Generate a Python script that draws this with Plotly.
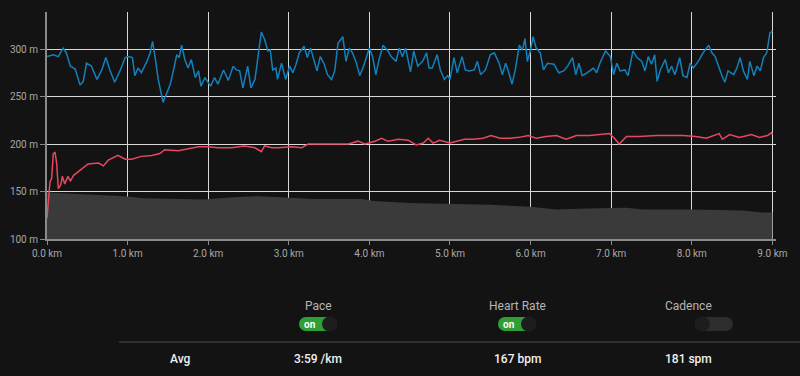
import plotly.graph_objects as go

# ---------------- data ----------------
pace_km = [0.00, 0.08, 0.14, 0.20, 0.24, 0.29, 0.35, 0.41, 0.45, 0.49, 0.55, 0.62, 0.68, 0.73, 0.78,
           0.84, 0.91, 0.97, 1.01, 1.06, 1.09, 1.13, 1.17, 1.24, 1.28, 1.31, 1.34, 1.38, 1.44, 1.48,
           1.53, 1.57, 1.61, 1.64, 1.67, 1.71, 1.75, 1.79, 1.84, 1.88, 1.91, 1.96, 2.03, 2.08, 2.12,
           2.19, 2.25, 2.31, 2.35, 2.39, 2.43, 2.49, 2.53, 2.58, 2.62, 2.66, 2.70, 2.74, 2.77, 2.80,
           2.84, 2.86, 2.91, 2.96, 3.01, 3.05, 3.09, 3.13, 3.19, 3.23, 3.27, 3.31, 3.35, 3.39, 3.44,
           3.48, 3.53, 3.57, 3.61, 3.67, 3.71, 3.75, 3.79, 3.84, 3.88, 3.92, 3.96, 4.00, 4.04, 4.08,
           4.12, 4.17, 4.23, 4.27, 4.33, 4.37, 4.41, 4.45, 4.51, 4.55, 4.60, 4.66, 4.71, 4.74, 4.78,
           4.84, 4.88, 4.93, 4.97, 5.00, 5.05, 5.09, 5.15, 5.19, 5.24, 5.30, 5.34, 5.38, 5.44, 5.50,
           5.55, 5.61, 5.65, 5.69, 5.73, 5.77, 5.81, 5.86, 5.90, 5.93, 5.96, 6.00, 6.03, 6.07, 6.12,
           6.16, 6.21, 6.29, 6.35, 6.41, 6.46, 6.52, 6.56, 6.60, 6.64, 6.70, 6.78, 6.82, 6.86, 6.93,
           6.99, 7.03, 7.07, 7.11, 7.17, 7.21, 7.27, 7.32, 7.38, 7.42, 7.46, 7.50, 7.54, 7.57, 7.61,
           7.67, 7.71, 7.75, 7.79, 7.85, 7.89, 7.94, 7.98, 8.02, 8.08, 8.14, 8.21, 8.25, 8.29, 8.33,
           8.37, 8.41, 8.45, 8.52, 8.56, 8.60, 8.64, 8.69, 8.72, 8.77, 8.81, 8.85, 8.89, 8.93, 8.97,
           9.00]
pace_val = [292, 294, 292, 301, 296, 282, 279, 262, 266, 285, 282, 268, 278, 291, 278,
            265, 278, 291, 292, 291, 272, 280, 275, 287, 296, 308, 292, 268, 244, 252,
            263, 278, 294, 291, 304, 289, 280, 289, 270, 277, 261, 270, 261, 270, 263,
            278, 267, 282, 278, 277, 259, 282, 259, 268, 296, 318, 310, 298, 299, 278,
            280, 268, 285, 268, 282, 275, 284, 296, 303, 291, 301, 289, 277, 292, 284,
            273, 268, 277, 306, 313, 287, 301, 296, 285, 272, 280, 291, 301, 292, 273,
            289, 304, 298, 292, 287, 301, 292, 301, 276, 298, 282, 287, 296, 280, 280,
            294, 278, 268, 272, 268, 291, 275, 292, 278, 277, 278, 287, 273, 278, 294,
            296, 285, 273, 285, 275, 263, 278, 304, 299, 311, 287, 299, 313, 301, 296,
            278, 285, 284, 275, 277, 282, 291, 273, 285, 272, 275, 280, 275, 285, 298,
            292, 273, 285, 277, 278, 272, 298, 291, 287, 277, 292, 284, 294, 266, 278,
            289, 275, 282, 273, 291, 272, 270, 285, 280, 287, 296, 304, 296, 292, 282,
            273, 265, 277, 273, 280, 291, 277, 268, 287, 272, 282, 277, 291, 296, 317,
            319]

hr_km = [0.00, 0.025, 0.037, 0.058, 0.078, 0.10, 0.12, 0.14, 0.17, 0.19, 0.22, 0.26, 0.29, 0.33,
         0.39, 0.43, 0.51, 0.64, 0.70, 0.76, 0.88, 0.97, 1.05, 1.17, 1.30, 1.40, 1.46, 1.63, 1.75,
         1.88, 2.00, 2.12, 2.29, 2.45, 2.58, 2.66, 2.70, 2.79, 2.87, 3.03, 3.16, 3.24, 3.36, 3.53,
         3.61, 3.74, 3.86, 3.94, 4.07, 4.15, 4.23, 4.36, 4.48, 4.58, 4.67, 4.73, 4.79, 4.87, 5.00,
         5.08, 5.18, 5.29, 5.41, 5.51, 5.62, 5.74, 5.86, 5.97, 6.07, 6.19, 6.32, 6.44, 6.57, 6.73,
         6.90, 6.98, 7.04, 7.10, 7.19, 7.35, 7.56, 7.72, 7.89, 8.05, 8.18, 8.34, 8.38, 8.47, 8.59,
         8.74, 8.84, 8.94, 8.99, 9.00]
hr_val = [122, 148, 160, 164, 190, 191, 180, 153, 157, 166, 158, 166, 161, 167,
          171, 174, 179, 180, 177, 183, 188, 184, 184, 187, 188, 190, 194, 193, 195,
          197, 197, 196, 196, 198, 196, 192, 198, 196, 196, 197, 196, 200, 200, 200,
          200, 200, 203, 200, 203, 206, 203, 205, 204, 199, 201, 206, 201, 204, 201,
          203, 205, 205, 206, 209, 206, 206, 207, 209, 206, 208, 209, 205, 209, 209,
          210, 211, 206, 200, 208, 208, 209, 209, 209, 208, 206, 211, 205, 210, 207,
          210, 207, 209, 212, 210]

elev_km = [0.0, 0.5, 0.97, 1.2, 1.6, 1.95, 2.3, 2.6, 2.9, 3.0, 3.3, 3.9, 4.05, 4.5, 5.0,
           5.5, 6.0, 6.32, 6.7, 7.0, 7.19, 7.39, 8.0, 8.63, 8.88, 9.0]
elev_val = [149, 147, 145, 143, 142, 141.5, 144, 145, 144, 143.5, 142, 142, 140, 138, 137,
            136, 134, 131, 132, 133, 133, 131, 131, 130, 128, 128]

x_ticks = [0, 1, 2, 3, 4, 5, 6, 7, 8, 9]
x_tick_text = ["0.0 km", "1.0 km", "2.0 km", "3.0 km", "4.0 km", "5.0 km",
               "6.0 km", "7.0 km", "8.0 km", "9.0 km"]
y_ticks = [100, 150, 200, 250, 300]
y_tick_text = ["100 m", "150 m", "200 m", "250 m", "300 m"]

metric_names = ["Pace", "Heart Rate", "Cadence"]
metric_on = [True, True, False]
metric_avgs = ["3:59 /km", "167 bpm", "181 spm"]

# ---------------- figure ----------------
BG = "#131313"
W, H = 800, 376
L, R, T, B = 47, 24, 12, 137
PW, PH = W - L - R, H - T - B

fig = go.Figure()
fig.add_trace(go.Scatter(x=elev_km, y=elev_val, mode="lines", fill="tozeroy",
                         line=dict(width=0, color="#3a3a3a"), fillcolor="#3a3a3a",
                         hoverinfo="skip"))
fig.add_trace(go.Scatter(x=hr_km, y=hr_val, mode="lines",
                         line=dict(width=1.5, color="#e8475e"), hoverinfo="skip"))
fig.add_trace(go.Scatter(x=pace_km, y=pace_val, mode="lines",
                         line=dict(width=1.5, color="#1380bb"), hoverinfo="skip"))


def px(x):
    return (x - L) / PW


def py(y):
    return (H - B - y) / PH


shapes = []
annotations = []

# separator line
shapes.append(dict(type="line", xref="paper", yref="paper", x0=px(119), x1=px(800),
                   y0=py(342), y1=py(342), line=dict(color="#4a4a4a", width=1)))

centers = [318, 517, 714]
for name, on, avg, cx in zip(metric_names, metric_on, metric_avgs, centers):
    annotations.append(dict(text=name, x=px(cx), y=py(306), xref="paper", yref="paper",
                            showarrow=False, yanchor="middle",
                            font=dict(size=12, color="#b5b5b5")))
    annotations.append(dict(text=avg, x=px(cx), y=py(359), xref="paper", yref="paper",
                            showarrow=False, yanchor="middle",
                            font=dict(size=12, color="#f0f0f0", weight=500)))
    x0, x1 = cx - 19, cx + 19
    y0, y1 = 317, 331
    r = (y1 - y0) / 2
    base = "#2d2d2d"
    # pill background
    shapes.append(dict(type="circle", xref="paper", yref="paper", x0=px(x0), x1=px(x0 + 2 * r),
                       y0=py(y1), y1=py(y0), fillcolor=base, line=dict(width=0)))
    shapes.append(dict(type="circle", xref="paper", yref="paper", x0=px(x1 - 2 * r), x1=px(x1),
                       y0=py(y1), y1=py(y0), fillcolor=base, line=dict(width=0)))
    shapes.append(dict(type="rect", xref="paper", yref="paper", x0=px(x0 + r), x1=px(x1 - r),
                       y0=py(y1), y1=py(y0), fillcolor=base, line=dict(width=0)))
    if on:
        green = "#2f9e35"
        shapes.append(dict(type="circle", xref="paper", yref="paper", x0=px(x0), x1=px(x0 + 2 * r),
                           y0=py(y1), y1=py(y0), fillcolor=green, line=dict(width=0)))
        shapes.append(dict(type="rect", xref="paper", yref="paper", x0=px(x0 + r), x1=px(x1 - r),
                           y0=py(y1), y1=py(y0), fillcolor=green, line=dict(width=0)))
        shapes.append(dict(type="circle", xref="paper", yref="paper", x0=px(x1 - 2 * r - 1), x1=px(x1),
                           y0=py(y1 + 0.5), y1=py(y0 - 0.5), fillcolor="#1d1d1d", line=dict(width=0)))
        annotations.append(dict(text="<b>on</b>", x=px(x0 + 11), y=py(324.5), xref="paper", yref="paper",
                                showarrow=False, yanchor="middle",
                                font=dict(size=10, color="#ffffff")))
    else:
        shapes.append(dict(type="circle", xref="paper", yref="paper", x0=px(x0), x1=px(x0 + 2 * r + 1),
                           y0=py(y1 + 0.5), y1=py(y0 - 0.5), fillcolor="#1d1d1d", line=dict(width=0)))

annotations.append(dict(text="Avg", x=px(168), y=py(359), xref="paper", yref="paper",
                        showarrow=False, yanchor="middle",
                        font=dict(size=12, color="#f0f0f0", weight=500)))

fig.update_layout(
    width=W, height=H,
    margin=dict(l=L, r=R, t=T, b=B, autoexpand=False),
    paper_bgcolor=BG, plot_bgcolor=BG,
    showlegend=False,
    font=dict(family="Roboto, Arial, sans-serif", color="#a8a8a8", size=10),
    shapes=shapes,
    annotations=annotations,
    hovermode=False,
)
fig.update_xaxes(range=[0, 9.045], tickvals=x_ticks, ticktext=x_tick_text,
                 showgrid=True, gridcolor="#d8d8d8", gridwidth=1, automargin=False,
                 showline=True, linecolor="#8a8a8a", linewidth=2,
                 ticks="outside", ticklen=4, tickcolor="#8a8a8a",
                 tickfont=dict(size=10, color="#a8a8a8"), zeroline=False, fixedrange=True)
fig.update_yaxes(range=[100, 339], tickvals=y_ticks, ticktext=y_tick_text,
                 showgrid=True, gridcolor="#d8d8d8", gridwidth=1, automargin=False,
                 showline=True, linecolor="#8a8a8a", linewidth=2,
                 ticks="outside", ticklen=5, tickcolor="#8a8a8a",
                 tickfont=dict(size=10, color="#a8a8a8"), zeroline=False, fixedrange=True)

fig.write_html("out.html", config={"displayModeBar": False},
               post_script="document.body.style.margin='0';document.body.style.background='#131313';")
